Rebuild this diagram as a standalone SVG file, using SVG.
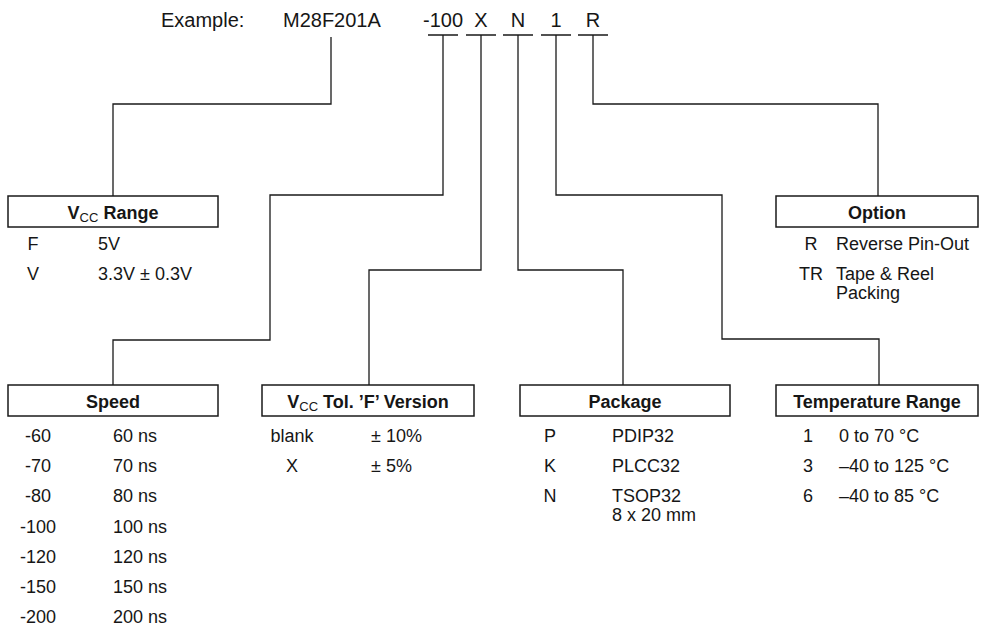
<svg xmlns="http://www.w3.org/2000/svg" width="984" height="629" viewBox="0 0 984 629">
  <style>
    text { font-family: "Liberation Sans", Arial, Helvetica, sans-serif; fill: #161616; }
    .code { font-size: 20px; }
    .t { font-size: 18px; }
    .title { font-size: 18px; font-weight: bold; text-anchor: middle; }
    .sub { font-size: 13px; font-weight: normal; }
    .mid { text-anchor: middle; }
    .box { fill: #fff; stroke: #1a1a1a; stroke-width: 1.5; }
    .wire { fill: none; stroke: #1a1a1a; stroke-width: 1.3; }
  </style>

  <!-- part number example -->
  <g id="example">
    <text class="code" x="161" y="27">Example:</text>
    <text class="code" x="283" y="27">M28F201A</text>
    <text class="code mid" x="443" y="27">-100</text>
    <text class="code mid" x="481" y="27">X</text>
    <text class="code mid" x="518" y="27">N</text>
    <text class="code mid" x="556" y="27">1</text>
    <text class="code mid" x="593" y="27">R</text>
  </g>

  <!-- field underlines and leader lines -->
  <g id="connectors" class="wire">
    <path d="M428 35H458M466 35H496M503 35H533M541 35H571M578 35H608"/>
    <path d="M331 37V104H113V196"/>
    <path d="M443 35V195H270V340H113V385"/>
    <path d="M481 35V270H369V385"/>
    <path d="M518 35V270H623V385"/>
    <path d="M556 35V195H722V339H879V385"/>
    <path d="M593 35V104H878V196"/>
  </g>

  <g id="vcc-range">
    <rect class="box" x="8" y="196" width="210" height="31"/>
    <text class="title" x="113" y="219">V<tspan class="sub" dy="3">CC</tspan><tspan dy="-3"> Range</tspan></text>
    <text class="t mid" x="33" y="250">F</text>
    <text class="t" x="98" y="250">5V</text>
    <text class="t mid" x="33" y="280">V</text>
    <text class="t" x="98" y="280">3.3V ± 0.3V</text>
  </g>

  <g id="option">
    <rect class="box" x="776" y="196" width="202" height="31"/>
    <text class="title" x="877" y="219">Option</text>
    <text class="t mid" x="811" y="250">R</text>
    <text class="t" x="836" y="250">Reverse Pin-Out</text>
    <text class="t mid" x="811" y="280">TR</text>
    <text class="t" x="836" y="280">Tape &amp; Reel<tspan x="836" dy="19">Packing</tspan></text>
  </g>

  <g id="speed">
    <rect class="box" x="8" y="385" width="210" height="31"/>
    <text class="title" x="113" y="408">Speed</text>
    <text class="t mid" x="38" y="442">-60</text><text class="t" x="113" y="442">60 ns</text>
    <text class="t mid" x="38" y="472">-70</text><text class="t" x="113" y="472">70 ns</text>
    <text class="t mid" x="38" y="502">-80</text><text class="t" x="113" y="502">80 ns</text>
    <text class="t mid" x="38" y="533">-100</text><text class="t" x="113" y="533">100 ns</text>
    <text class="t mid" x="38" y="563">-120</text><text class="t" x="113" y="563">120 ns</text>
    <text class="t mid" x="38" y="593">-150</text><text class="t" x="113" y="593">150 ns</text>
    <text class="t mid" x="38" y="623">-200</text><text class="t" x="113" y="623">200 ns</text>
  </g>

  <g id="vcc-tolerance">
    <rect class="box" x="262" y="385" width="212" height="31"/>
    <text class="title" x="368" y="408">V<tspan class="sub" dy="3">CC</tspan><tspan dy="-3"> Tol. ’F’ Version</tspan></text>
    <text class="t mid" x="292" y="442">blank</text><text class="t" x="371" y="442">± 10%</text>
    <text class="t mid" x="292" y="472">X</text><text class="t" x="371" y="472">± 5%</text>
  </g>

  <g id="package">
    <rect class="box" x="520" y="385" width="210" height="31"/>
    <text class="title" x="625" y="408">Package</text>
    <text class="t mid" x="550" y="442">P</text><text class="t" x="612" y="442">PDIP32</text>
    <text class="t mid" x="550" y="472">K</text><text class="t" x="612" y="472">PLCC32</text>
    <text class="t mid" x="550" y="502">N</text><text class="t" x="612" y="502">TSOP32<tspan x="612" dy="19">8 x 20 mm</tspan></text>
  </g>

  <g id="temperature-range">
    <rect class="box" x="776" y="385" width="202" height="31"/>
    <text class="title" x="877" y="408">Temperature Range</text>
    <text class="t mid" x="808" y="442">1</text><text class="t" x="839" y="442">0 to 70 °C</text>
    <text class="t mid" x="808" y="472">3</text><text class="t" x="839" y="472">–40 to 125 °C</text>
    <text class="t mid" x="808" y="502">6</text><text class="t" x="839" y="502">–40 to 85 °C</text>
  </g>
</svg>
